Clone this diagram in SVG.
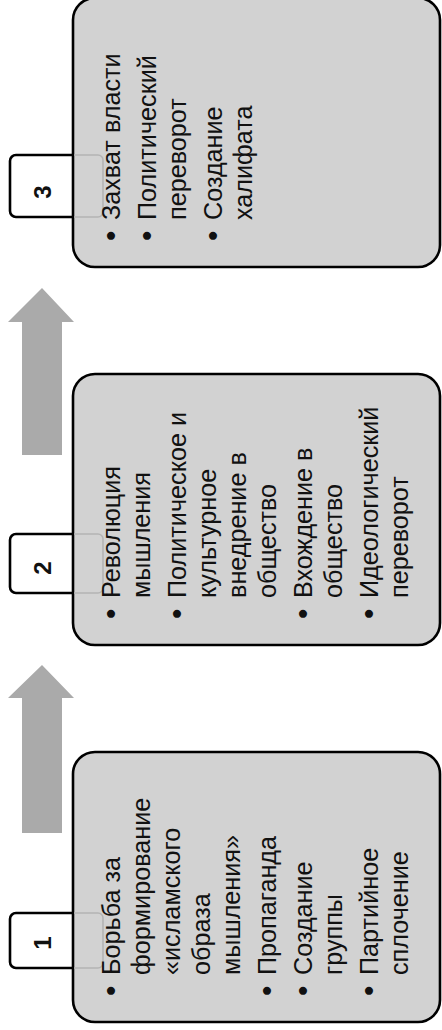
<svg xmlns="http://www.w3.org/2000/svg" width="442" height="1030" viewBox="0 0 442 1030">
<style>
.box{fill:#d2d2d2;stroke:#000;stroke-width:2.6}
.tab{fill:#fff;stroke:#000;stroke-width:2.6}
.inner{fill:none;stroke:#b4b4b4;stroke-width:1.6}
.arrow{fill:#aaaaaa}
.t{font-family:"Liberation Sans",Arial,sans-serif;font-size:25.2px;fill:#111}
.b{font-size:30px}
.n{font-family:"Liberation Sans",Arial,sans-serif;font-size:24px;font-weight:bold;fill:#111;text-anchor:middle}
</style>
<rect width="442" height="1030" fill="#fff"/>
<g id="connectors">
<polygon class="arrow" points="42,665 74,698 62,698 62,833 22,833 22,698 8,698"/>
<polygon class="arrow" points="42,288 74,322 62,322 62,455 22,455 22,322 8,322"/>
</g>
<g id="node1">
<path class="tab" d="M74,913 H16 a6,6 0 0 0 -6,6 V962 a6,6 0 0 0 6,6 H74"/>
<rect class="box" x="73" y="752" width="367" height="270" rx="22"/>
<path class="inner" d="M74,913 H98 a5,5 0 0 1 5,5 V963 a5,5 0 0 1 -5,5 H74"/>
<g transform="translate(0,1022) rotate(-90)">
<text class="n" x="79" y="51">1</text>
<text class="t">
<tspan class="b" x="26" y="121">•</tspan><tspan x="47" y="120">Борьба за</tspan>
<tspan x="47" y="150">формирование</tspan>
<tspan x="47" y="180">«исламского</tspan>
<tspan x="47" y="210">образа</tspan>
<tspan x="47" y="240">мышления»</tspan>
<tspan class="b" x="26" y="277">•</tspan><tspan x="47" y="276">Пропаганда</tspan>
<tspan class="b" x="26" y="313">•</tspan><tspan x="47" y="312">Создание</tspan>
<tspan x="47" y="342">группы</tspan>
<tspan class="b" x="26" y="379">•</tspan><tspan x="47" y="378">Партийное</tspan>
<tspan x="47" y="408">сплочение</tspan>
</text>
</g>
</g>
<g id="node2">
<path class="tab" d="M74,534 H16 a6,6 0 0 0 -6,6 V587 a6,6 0 0 0 6,6 H74"/>
<rect class="box" x="73" y="374" width="367" height="271" rx="22"/>
<path class="inner" d="M74,534 H98 a5,5 0 0 1 5,5 V588 a5,5 0 0 1 -5,5 H74"/>
<g transform="translate(0,645) rotate(-90)">
<text class="n" x="77" y="51">2</text>
<text class="t">
<tspan class="b" x="26" y="121">•</tspan><tspan x="47" y="120">Революция</tspan>
<tspan x="47" y="150">мышления</tspan>
<tspan class="b" x="26" y="187">•</tspan><tspan x="47" y="186">Политическое и</tspan>
<tspan x="47" y="216">культурное</tspan>
<tspan x="47" y="246">внедрение в</tspan>
<tspan x="47" y="276">общество</tspan>
<tspan class="b" x="26" y="313">•</tspan><tspan x="47" y="312">Вхождение в</tspan>
<tspan x="47" y="342">общество</tspan>
<tspan class="b" x="26" y="379">•</tspan><tspan x="47" y="378">Идеологический</tspan>
<tspan x="47" y="408">переворот</tspan>
</text>
</g>
</g>
<g id="node3">
<path class="tab" d="M74,155 H16 a6,6 0 0 0 -6,6 V211 a6,6 0 0 0 6,6 H74"/>
<rect class="box" x="73" y="-2" width="367" height="269" rx="22"/>
<path class="inner" d="M74,155 H98 a5,5 0 0 1 5,5 V212 a5,5 0 0 1 -5,5 H74"/>
<g transform="translate(0,267) rotate(-90)">
<text class="n" x="75" y="51">3</text>
<text class="t">
<tspan class="b" x="26" y="121">•</tspan><tspan x="47" y="120">Захват власти</tspan>
<tspan class="b" x="26" y="157">•</tspan><tspan x="47" y="156">Политический</tspan>
<tspan x="47" y="186">переворот</tspan>
<tspan class="b" x="26" y="223">•</tspan><tspan x="47" y="222">Создание</tspan>
<tspan x="47" y="252">халифата</tspan>
</text>
</g>
</g>
</svg>
